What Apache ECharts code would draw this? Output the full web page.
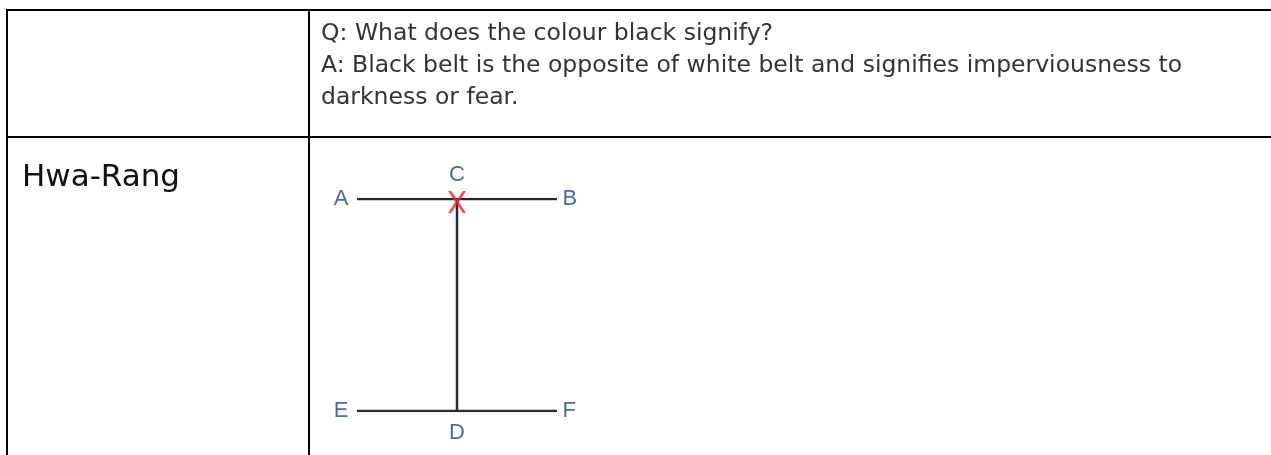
<!DOCTYPE html>
<html>
<head>
<meta charset="utf-8">
<title>Hwa-Rang</title>
<script src="https://cdn.jsdelivr.net/npm/echarts@6/dist/echarts.min.js"></script>
<style>
  html, body { margin: 0; padding: 0; background: #fff; }
  #main { width: 1271px; height: 455px; }
</style>
</head>
<body>
<div id="main"></div>
<script>
// diagram points (x, y in pattern units)
var pointNames = ['A', 'B', 'C', 'D', 'E', 'F'];
var pointX = [0, 2, 1, 1, 0, 2];
var pointY = [1, 1, 1, 0, 0, 0];
var labelPos = ['left', 'right', 'top', 'bottom', 'left', 'right'];
// segments drawn between named points
var segments = [['A', 'B'], ['E', 'F'], ['C', 'D']];
// where the red cross sits
var crossPoint = 'C';

var questionLines = [
  'Q: What does the colour black signify?',
  'A: Black belt is the opposite of white belt and signifies imperviousness to',
  'darkness or fear.'
];
var patternName = 'Hwa-Rang';

function pt(name) {
  var i = pointNames.indexOf(name);
  return [pointX[i], pointY[i]];
}

var chart = echarts.init(document.getElementById('main'));

var lineSeries = segments.map(function (s) {
  return {
    type: 'line',
    data: [pt(s[0]), pt(s[1])],
    symbol: 'none',
    silent: true,
    lineStyle: { color: '#2a2a2a', width: 2.5 }
  };
});

var labelData = pointNames.map(function (n, i) {
  var d = 8;
  if (labelPos[i] == 'right') d = 5;
  if (labelPos[i] == 'top') d = 13;
  if (labelPos[i] == 'bottom') d = 10;
  return {
    value: [pointX[i], pointY[i]],
    name: n,
    label: { position: labelPos[i], distance: d }
  };
});

// table rules and text
var graphics = [
  { type: 'rect', shape: { x: 6, y: 9, width: 1265, height: 2 }, style: { fill: '#000' } },
  { type: 'rect', shape: { x: 6, y: 136, width: 1265, height: 2 }, style: { fill: '#000' } },
  { type: 'rect', shape: { x: 6, y: 9, width: 2, height: 446 }, style: { fill: '#000' } },
  { type: 'rect', shape: { x: 308, y: 9, width: 2, height: 446 }, style: { fill: '#000' } },
  {
    type: 'text', left: 22, top: 162,
    style: { text: patternName, fill: '#111', font: '31px "DejaVu Sans", sans-serif' }
  }
];
questionLines.forEach(function (t, i) {
  graphics.push({
    type: 'text', left: 321, top: 22 + i * 32,
    style: { text: t, fill: '#333', font: '23.5px "DejaVu Sans", sans-serif' }
  });
});

var option = {
  animation: false,
  grid: { left: 357, top: 199, width: 200, height: 212 },
  xAxis: { type: 'value', min: 0, max: 2, show: false },
  yAxis: { type: 'value', min: 0, max: 1, show: false },
  graphic: { elements: graphics },
  series: lineSeries.concat([
    {
      type: 'scatter',
      data: labelData,
      symbolSize: 1,
      itemStyle: { color: 'rgba(0,0,0,0)' },
      silent: true,
      label: {
        show: true,
        formatter: '{b}',
        color: '#21467a',
        fontSize: 22,
        fontFamily: '"Liberation Sans", Arial, sans-serif'
      }
    },
    {
      type: 'scatter',
      data: [pt(crossPoint)],
      symbol: 'path://M0,0L3.6,0L10,9L16.4,0L20,0L12,11.5L20,23L16.4,23L10,14L3.6,23L0,23L8,11.5Z',
      symbolSize: [18, 22],
      symbolOffset: [0, 3],
      itemStyle: { color: '#e8262b' },
      silent: true,
      z: 5
    }
  ])
};
chart.setOption(option);
</script>
</body>
</html>
